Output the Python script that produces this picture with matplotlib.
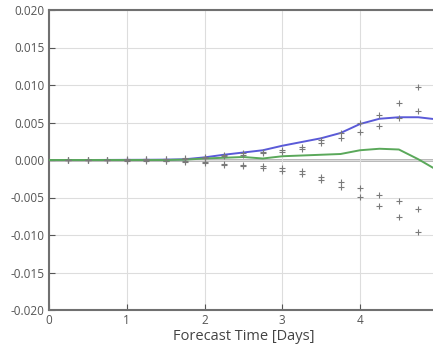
import numpy as np
import matplotlib
matplotlib.use("Agg")
import matplotlib.pyplot as plt

plt.rcParams['font.family'] = ['Open Sans', 'DejaVu Sans']

# forecast lead times (days)
lead = [0.0, 0.25, 0.5, 0.75, 1.0, 1.25, 1.5, 1.75, 2.0, 2.25, 2.5, 2.75,
        3.0, 3.25, 3.5, 3.75, 4.0, 4.25, 4.5, 4.75, 5.0]

# mean bias (blue) and median bias (green)
mean_bias = [0.0, 0.0, 0.0, 0.00001, 0.00002, 0.00003, 0.00005, 0.0001,
             0.00035, 0.0007, 0.001, 0.0013, 0.0019, 0.0024, 0.0029,
             0.0036, 0.0048, 0.0055, 0.0057, 0.0057, 0.0054]
median_bias = [0.0, 0.0, 0.0, 0.0, 0.0, 0.0, 0.0, 0.00005, 0.0002,
               0.0003, 0.0004, 0.0002, 0.0005, 0.0006, 0.0007, 0.0008,
               0.0013, 0.0015, 0.0014, 0.0001, -0.0014]

# spread of individual members, sampled every 6 h
spread_lead = [0.25, 0.5, 0.75, 1.0, 1.25, 1.5, 1.75, 2.0, 2.25, 2.5,
               2.75, 3.0, 3.25, 3.5, 3.75, 4.0, 4.25, 4.5, 4.75]
upper_outer = [0.00002, 0.00003, 0.00005, 0.00008, 0.00012, 0.00018,
               0.00025, 0.0004, 0.0007, 0.0009, 0.0011, 0.0014, 0.0018,
               0.0027, 0.0036, 0.0049, 0.0060, 0.0076, 0.0097]
upper_inner = [0.00001, 0.00002, 0.00003, 0.00005, 0.00008, 0.00012,
               0.00018, 0.0003, 0.0005, 0.0007, 0.0009, 0.0011, 0.0015,
               0.0023, 0.0030, 0.0037, 0.0045, 0.0056, 0.0065]
lower_inner = [-0.00001, -0.00002, -0.00003, -0.00004, -0.00006, -0.0001,
               -0.00015, -0.0003, -0.0005, -0.0006, -0.0008, -0.0011,
               -0.0014, -0.0023, -0.0029, -0.0037, -0.0047, -0.0055,
               -0.0065]
lower_outer = [-0.00002, -0.00003, -0.00005, -0.00007, -0.0001, -0.00015,
               -0.00022, -0.0004, -0.0007, -0.0008, -0.0011, -0.0014,
               -0.0018, -0.0027, -0.0036, -0.0049, -0.0061, -0.0076,
               -0.0096]

fig = plt.figure(figsize=(4.33, 3.45), dpi=100)
ax = fig.add_axes([49 / 433, 35 / 345, 388.75 / 433, 300 / 345])

ax.axhline(0, color='#a0a0a0', lw=1.8, zorder=1)
ax.plot(lead, mean_bias, color='#5a5ad8', lw=1.4, zorder=3)
ax.plot(lead, median_bias, color='#5aa85a', lw=1.4, zorder=3)
for series in (upper_outer, upper_inner, lower_inner, lower_outer):
    ax.plot(spread_lead, series, '+', color='#7a7a7a', ms=4.5, mew=0.8,
            zorder=4)

ax.set_xlim(0, 5)
ax.set_ylim(-0.02, 0.02)
ax.set_xticks([0, 1, 2, 3, 4])
ax.set_yticks(np.arange(-0.02, 0.0201, 0.005))
ax.yaxis.set_major_formatter(matplotlib.ticker.FormatStrFormatter('%.3f'))
ax.grid(True, color='#dddddd', lw=0.8)
ax.tick_params(direction='in', length=4, width=0.8, colors='#555555',
               labelsize=8.5, labelcolor='#555555', pad=3)
for sp in ax.spines.values():
    sp.set_color('#707070')
    sp.set_linewidth(1.5)
ax.set_xlabel('Forecast Time [Days]', fontsize=10.5, color='#444444',
              labelpad=1)

fig.savefig('out.png', dpi=100)
